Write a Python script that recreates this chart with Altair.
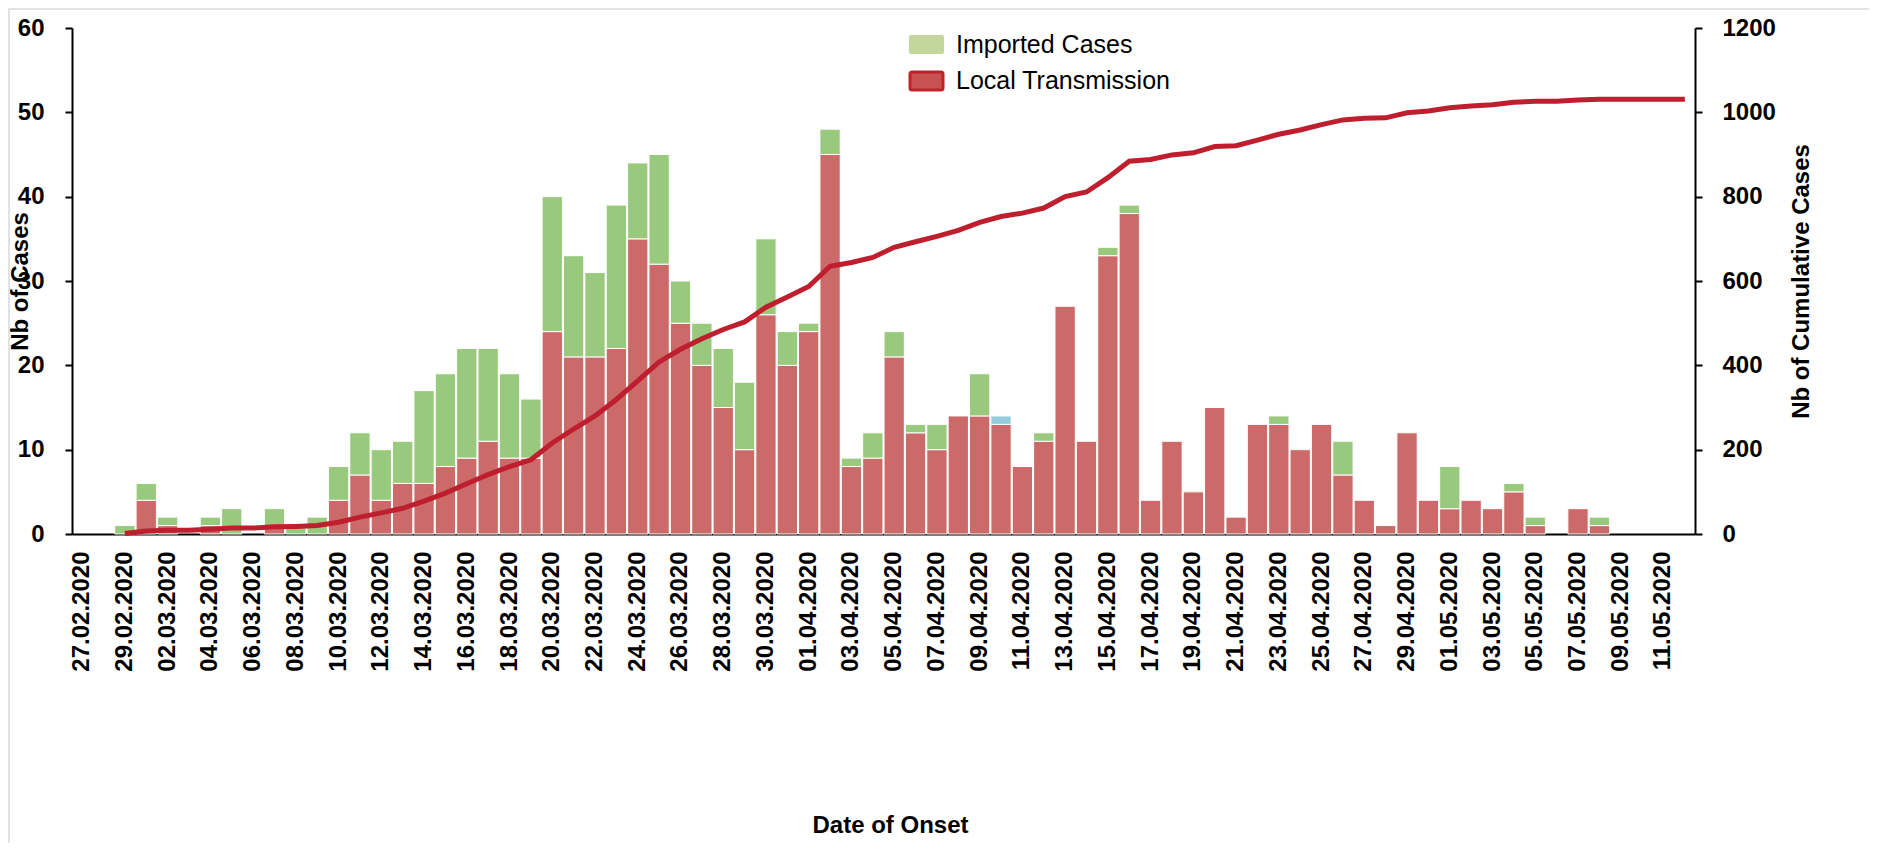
import altair as alt
import pandas as pd

# ---------------- data ----------------
dates = [d.strftime("%d.%m.%Y") for d in pd.date_range("2020-02-27", "2020-05-12")]

local = (
    [0, 0, 0]
    + [4, 1, 0, 1, 0, 0, 1, 0, 0, 4, 7, 4, 6, 6, 8, 9, 11, 9, 9, 24, 21, 21, 22, 35, 32,
       25, 20, 15, 10, 26, 20]
    + [24, 45, 8, 9, 21, 12, 10, 14, 14, 13, 8, 11, 27, 11, 33, 38, 4, 11, 5, 15, 2, 13,
       13, 10, 13, 7, 4, 1, 12, 4]
    + [3, 4, 3, 5, 1, 0, 3, 1, 0, 0, 0, 0]
)
imported = (
    [0, 0, 1]
    + [2, 1, 0, 1, 3, 0, 2, 1, 2, 4, 5, 6, 5, 11, 11, 13, 11, 10, 7, 16, 12, 10, 17, 9, 13,
       5, 5, 7, 8, 9, 4]
    + [1, 3, 1, 3, 3, 1, 3, 0, 5, 0, 0, 1, 0, 0, 1, 1, 0, 0, 0, 0, 0, 0, 1, 0, 0, 4, 0, 0,
       0, 0]
    + [5, 0, 0, 1, 1, 0, 0, 1, 0, 0, 0, 0]
)
other = [0] * 76
other[dates.index("10.04.2020")] = 1

tick_labels = dates[::2]
series = ["local", "imported", "other"]
series_colors = ["#cb6a69", "#98c97c", "#93cddd"]
legend_labels = ["Imported Cases", "Local Transmission"]

df = pd.DataFrame({
    "date": dates,
    "idx": list(range(len(dates))),
    "local": local,
    "imported": imported,
    "other": other,
})

W, H = 1623, 506
FONT = "Liberation Sans"

x_scale = alt.Scale(domain=dates, paddingInner=0.05, paddingOuter=0)
x_axis = alt.Axis(
    values=tick_labels,
    labelAngle=270,
    labelAlign="right",
    labelBaseline="middle",
    labelPadding=17,
    labelOverlap=False,
    labelFontSize=24,
    ticks=False,
    title="Date of Onset",
    titleX=818,
    titleY=291,
    titleAlign="center",
    titleBaseline="middle",
)

base = alt.Chart(df)

bars = (
    base.transform_fold(series, as_=["series", "value"])
    .transform_filter("datum.value > 0")
    .transform_calculate(ord="indexof(['local','imported','other'], datum.series)")
    .mark_bar(stroke="white", strokeWidth=1)
    .encode(
        x=alt.X("date:N", scale=x_scale, axis=x_axis),
        y=alt.Y(
            "value:Q",
            stack="zero",
            scale=alt.Scale(domain=[0, 60], nice=False),
            axis=alt.Axis(
                values=[0, 10, 20, 30, 40, 50, 60],
                labelPadding=21,
                title="Nb of Cases",
                titleAngle=270,
                titleX=-40,
                titleY=253,
                titleAlign="center",
                titleBaseline="bottom",
            ),
        ),
        color=alt.Color(
            "series:N",
            scale=alt.Scale(domain=series, range=series_colors),
            legend=None,
        ),
        order=alt.Order("ord:Q"),
    )
)

line = (
    base.transform_calculate(total="datum.local + datum.imported + datum.other")
    .transform_window(cum="sum(total)", sort=[alt.SortField("idx")], frame=[None, 0])
    .transform_filter("datum.cum > 0")
    .mark_line(color="#be1e2d", strokeWidth=5)
    .encode(
        x=alt.X("date:N", scale=x_scale, axis=x_axis),
        y=alt.Y(
            "cum:Q",
            scale=alt.Scale(domain=[0, 1200], nice=False),
            axis=alt.Axis(
                orient="right",
                values=[0, 200, 400, 600, 800, 1000, 1200],
                format="d",
                labelPadding=20,
                title="Nb of Cumulative Cases",
                titleAngle=270,
                titleX=118,
                titleY=253,
                titleAlign="center",
                titleBaseline="bottom",
            ),
        ),
        order=alt.Order("idx:Q"),
    )
)

# ---------------- manual legend ----------------
leg1 = pd.DataFrame({"label": [legend_labels[0]]})
leg2 = pd.DataFrame({"label": [legend_labels[1]]})

sw1 = alt.Chart(leg1).mark_rect(fill="#c3d69b", cornerRadius=2).encode(
    x=alt.value(837), x2=alt.value(872), y=alt.value(7), y2=alt.value(26)
)
sw2 = alt.Chart(leg2).mark_rect(
    fill="#c75252", stroke="#c0222a", strokeWidth=3, cornerRadius=2
).encode(x=alt.value(838), x2=alt.value(871), y=alt.value(44), y2=alt.value(62))
tx1 = alt.Chart(leg1).mark_text(
    align="left", baseline="middle", font=FONT, fontSize=25, color="black"
).encode(x=alt.value(884), y=alt.value(17), text="label:N")
tx2 = alt.Chart(leg2).mark_text(
    align="left", baseline="middle", font=FONT, fontSize=25, color="black"
).encode(x=alt.value(884), y=alt.value(53), text="label:N")

frame = alt.Chart(leg1).mark_rect(
    fill="transparent", stroke="#d9d9d9", strokeWidth=1.5
).encode(x=alt.value(-63), y=alt.value(-19), x2=alt.value(1950), y2=alt.value(950))

chart = (
    alt.layer(frame, bars, line, sw1, sw2, tx1, tx2)
    .resolve_scale(y="independent")
    .properties(
        width=W,
        height=H,
        autosize=alt.AutoSizeParams(type="none"),
        padding={"left": 64, "top": 20, "right": 174, "bottom": 309},
    )
    .configure_view(stroke=None)
    .configure_axis(
        grid=False,
        domainColor="black",
        domainWidth=2,
        tickColor="black",
        tickWidth=2,
        tickSize=7,
        labelFont=FONT,
        labelFontWeight="bold",
        labelFontSize=24,
        labelColor="black",
        titleFont=FONT,
        titleFontWeight="bold",
        titleFontSize=24,
        titleColor="black",
    )
)

chart.save("out.html", embed_options={"renderer": "svg", "actions": False})
